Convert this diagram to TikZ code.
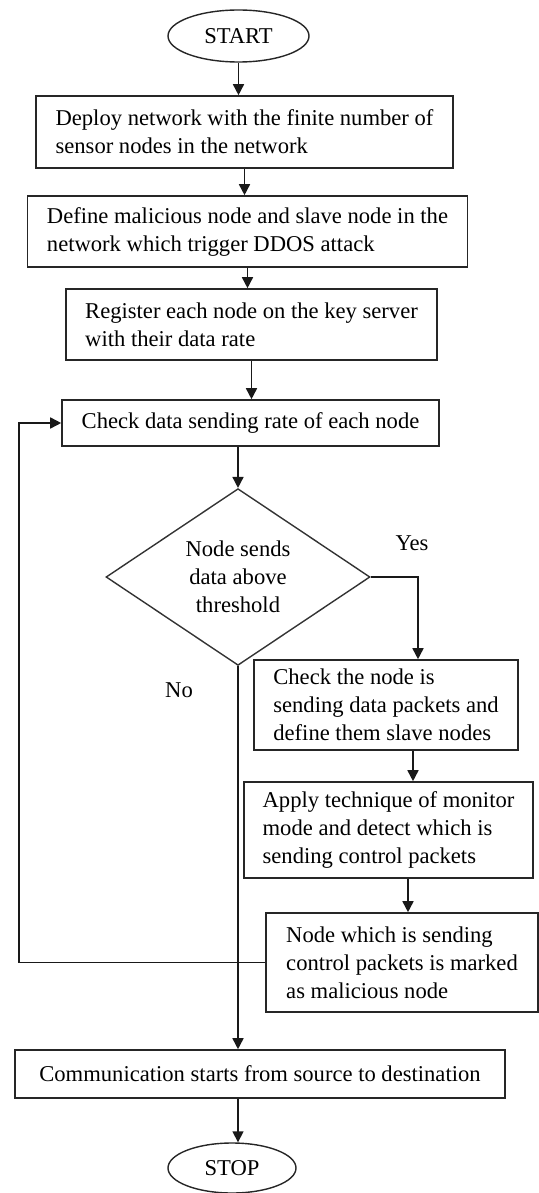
\documentclass[tikz,border=0pt]{standalone}
\usepackage{fontspec}
\setmainfont{Liberation Serif}
\usepackage{tikz}
\usetikzlibrary{shapes.geometric, arrows.meta, positioning, calc}
\tikzset{
  termnode/.style={draw=black!85, ellipse, line width=0.7pt, inner sep=0pt, font=\fontsize{11.3}{14}\selectfont},
  procnode/.style={draw=black!85, line width=0.8pt, inner sep=0pt, align=left, font=\fontsize{11.3}{14}\selectfont},
  decnode/.style={draw=black!80, diamond, line width=0.7pt, inner sep=0pt, align=center, font=\fontsize{11.3}{14}\selectfont},
  flowline/.style={-{Triangle[length=5.5pt, width=5.5pt]}, line width=0.8pt, draw=black!90},
  branchlabel/.style={font=\fontsize{11.3}{14}\selectfont, inner sep=1pt}
}

\begin{document}
\begin{tikzpicture}[x=0.5pt, y=-0.5pt]
  \useasboundingbox (0,0) rectangle (539,1193);

  \node[termnode, minimum width=70.5pt, minimum height=26pt] at (238.5,36) (start) {START};
  \node[procnode, minimum width=208.5pt, minimum height=36pt] at (244.5,132) (deploy)
    {Deploy network with the finite number of\\ sensor nodes in the network};
  \node[procnode, minimum width=220pt, minimum height=35.5pt] at (247.5,231.5) (define)
    {Define malicious node and slave node in the\\ network which trigger DDOS attack};
  \node[procnode, minimum width=185.5pt, minimum height=35.5pt] at (251.5,324.5) (register)
    {Register each node on the key server\\ with their data rate};
  \node[procnode, minimum width=188.5pt, minimum height=23pt] at (250.5,423) (checkrate)
    {Check data sending rate of each node};
  \node[decnode, minimum width=132pt, minimum height=86pt] at (238,577) (thresh)
    {Node sends\\ data above\\ threshold};
  \node[procnode, minimum width=132pt, minimum height=45pt] at (386,705) (slave)
    {Check the node is\\ sending data packets and\\ define them slave nodes};
  \node[procnode, minimum width=144.5pt, minimum height=48pt] at (388.5,830) (monitor)
    {Apply technique of monitor\\ mode and detect which is\\ sending control packets};
  \node[procnode, minimum width=136pt, minimum height=49.5pt] at (402,962.5) (mark)
    {Node which is sending\\ control packets is marked\\ as malicious node};
  \node[procnode, minimum width=245pt, minimum height=24pt] at (260,1074) (comm)
    {Communication starts from source to destination};
  \node[termnode, minimum width=64pt, minimum height=25pt] at (232,1168) (stop) {STOP};

  \coordinate (loop) at (19,0);

  % main flow
  \draw[flowline] (start.south) -- (start.south |- deploy.north);
  \draw[flowline] (deploy.south) -- (deploy.south |- define.north);
  \draw[flowline] (define.south) -- (define.south |- register.north);
  \draw[flowline] (register.south) -- (register.south |- checkrate.north);
  \draw[flowline] (thresh.north |- checkrate.south) -- (thresh.north);

  % yes branch
  \draw[flowline] (thresh.east) -| ([xshift=16pt]slave.north);
  \node[branchlabel] at (412,543) (yes) {Yes};
  \draw[flowline] ([xshift=13.5pt]slave.south) -- ([xshift=13.5pt]slave.south |- monitor.north);
  \draw[flowline] ([xshift=9.75pt]monitor.south) -- ([xshift=9.75pt]monitor.south |- mark.north);
  \draw[flowline] (mark.west) -- (mark.west -| loop) |- (checkrate.west);

  % no branch
  \draw[flowline] (thresh.south) -- (thresh.south |- comm.north);
  \node[branchlabel] at (179,690) (no) {No};

  \draw[flowline] (thresh.south |- comm.south) -- (thresh.south |- stop.north);
\end{tikzpicture}
\end{document}
